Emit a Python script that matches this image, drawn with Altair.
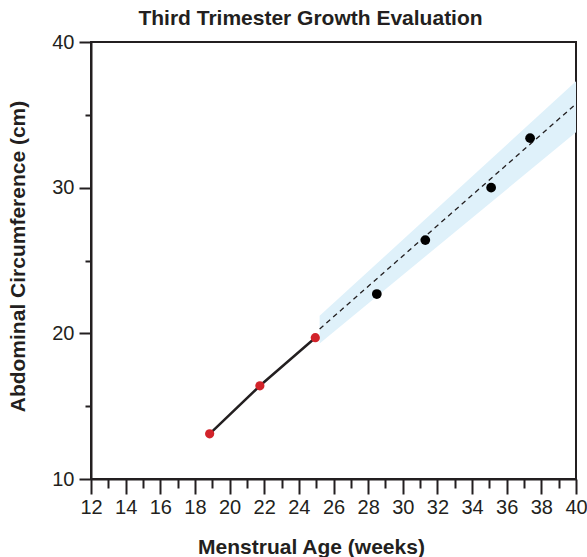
import altair as alt
import pandas as pd

# Early (second-trimester) measurements, joined by a solid line
early_weeks = [18.85, 21.75, 24.95]
early_ac = [13.1, 16.4, 19.7]

# Third-trimester measurements
late_weeks = [28.5, 31.3, 35.1, 37.35]
late_ac = [22.7, 26.4, 30.0, 33.4]

# Projected growth line and its expected range
proj_weeks = [25.2, 40.0]
proj_ac = [20.3, 35.75]
proj_lo = [19.3, 33.8]
proj_hi = [21.2, 37.3]

x_ticks = list(range(12, 41))
y_ticks = [10, 15, 20, 25, 30, 35, 40]

FONT = "Liberation Sans"
INK = "#231f20"

early = pd.DataFrame({"week": early_weeks, "ac": early_ac})
late = pd.DataFrame({"week": late_weeks, "ac": late_ac})
proj = pd.DataFrame({"week": proj_weeks, "ac": proj_ac, "lo": proj_lo, "hi": proj_hi})

x_scale = alt.Scale(domain=[12, 40], nice=False, zero=False)
y_scale = alt.Scale(domain=[10, 40], nice=False, zero=False)

x_axis = alt.Axis(
    values=x_ticks,
    tickCount=len(x_ticks) + 1,
    labelExpr="datum.value % 2 === 0 ? datum.label : ''",
    labelOverlap=False,
    labelFlush=False,
    tickSize={"condition": {"test": "datum.value % 2 === 0", "value": 15}, "value": 9},
    tickWidth=2,
    tickColor=INK,
    domainColor=INK,
    domainWidth=2,
    grid=False,
    labelFont=FONT,
    labelFontSize=20,
    labelColor=INK,
    labelPadding=3,
    title="Menstrual Age (weeks)",
    titleFont=FONT,
    titleFontSize=21,
    titleFontWeight="bold",
    titleColor=INK,
    titleX=220,
    titleY=68,
    titleAlign="center",
    titleBaseline="middle",
)

y_axis = alt.Axis(
    values=y_ticks,
    tickCount=len(y_ticks) + 1,
    labelExpr="datum.value % 10 === 0 ? datum.label : ''",
    labelOverlap=False,
    labelFlush=False,
    tickSize={"condition": {"test": "datum.value % 10 === 0", "value": 12}, "value": 6},
    tickWidth=2,
    tickColor=INK,
    domainColor=INK,
    domainWidth=2,
    grid=False,
    labelFont=FONT,
    labelFontSize=20,
    labelColor=INK,
    labelPadding=5,
    title="Abdominal Circumference (cm)",
    titleFont=FONT,
    titleFontSize=21,
    titleFontWeight="bold",
    titleColor=INK,
    titleX=-73,
    titleY=214,
    titleAngle=270,
    titleAlign="center",
    titleBaseline="middle",
)

band = alt.Chart(proj).mark_area(color="#dff1fa", opacity=1).encode(
    x=alt.X("week:Q", scale=x_scale, axis=x_axis),
    y=alt.Y("lo:Q", scale=y_scale, axis=y_axis),
    y2="hi:Q",
)

proj_line = alt.Chart(proj).mark_line(
    color=INK, strokeWidth=1.3, strokeDash=[5, 4]
).encode(x="week:Q", y="ac:Q")

early_line = alt.Chart(early).mark_line(color=INK, strokeWidth=2.5).encode(
    x="week:Q", y="ac:Q"
)

early_pts = alt.Chart(early).mark_circle(color="#d2232a", size=85, opacity=1).encode(
    x="week:Q", y="ac:Q"
)

late_pts = alt.Chart(late).mark_circle(color="#000000", size=95, opacity=1).encode(
    x="week:Q", y="ac:Q"
)

chart = alt.layer(band, proj_line, early_line, early_pts, late_pts).properties(
    width=485,
    height=437,
    autosize=alt.AutoSizeParams(type="none"),
    padding={"left": 91, "top": 42, "right": 11, "bottom": 78},
    background="white",
    title=alt.TitleParams(
        "Third Trimester Growth Evaluation",
        font=FONT,
        fontSize=21,
        fontWeight="bold",
        color=INK,
        anchor="middle",
        dx=-23,
        offset=3,
    ),
).configure_view(stroke=INK, strokeWidth=2)

chart.save("out.html", embed_options={"renderer": "svg", "actions": False})
